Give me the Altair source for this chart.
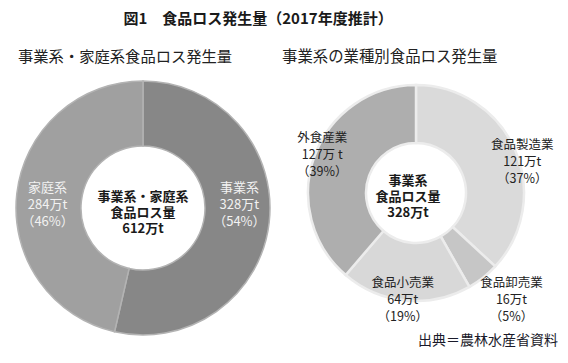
import altair as alt
import pandas as pd

# ---- data ----
left_cats = ["事業系", "家庭系"]
left_vals = [328, 284]
left_pcts = [54, 46]
left_units = ["万t", "万t"]

right_cats = ["食品製造業", "食品卸売業", "食品小売業", "外食産業"]
right_vals = [121, 16, 64, 127]
right_pcts = [37, 5, 19, 39]
right_units = ["万t", "万t", "万t", "万 t"]

title_text = "図1　食品ロス発生量（2017年度推計）"
sub_left = "事業系・家庭系食品ロス発生量"
sub_right = "事業系の業種別食品ロス発生量"
center_left = ["事業系・家庭系", "食品ロス量", "612万t"]
center_right = ["事業系", "食品ロス量", "328万t"]
source_text = "出典＝農林水産省資料"

# ---- styles ----
FONT = "Noto Sans CJK JP"
all_cats = left_cats + right_cats
all_colors = ["#878787", "#a0a0a0", "#dadada", "#c6c6c6", "#d8d8d8", "#aeaeae"]
color_scale = alt.Scale(domain=all_cats, range=all_colors)


def make_df(cats, vals, pcts, units):
    return pd.DataFrame({
        "idx": list(range(len(cats))),
        "cat": cats,
        "val": vals,
        "label": [f"{c}\n{v}{u}\n（{p}%）" for c, v, p, u in zip(cats, vals, pcts, units)],
    })


df_l = make_df(left_cats, left_vals, left_pcts, left_units)
df_r = make_df(right_cats, right_vals, right_pcts, right_units)


def donut(df, cx, cy, r_out, r_in, stroke, sw):
    return alt.Chart(df).mark_arc(radius=r_out, radius2=r_in, stroke=stroke, strokeWidth=sw).encode(
        theta=alt.Theta("val:Q", stack=True),
        order=alt.Order("idx:Q"),
        color=alt.Color("cat:N", scale=color_scale, legend=None),
        x=alt.value(cx),
        y=alt.value(cy),
    )


def slice_label(df, cat, cx, cy, radius, dx, dy, color, size=12.5):
    return alt.Chart(df).transform_calculate(
        shown=f"datum.cat == '{cat}' ? datum.label : ''"
    ).mark_text(
        radius=radius, dx=dx, dy=dy, font=FONT, fontSize=size, lineBreak="\n",
        lineHeight=17, color=color, align="center", baseline="middle",
    ).encode(
        theta=alt.Theta("val:Q", stack=True),
        order=alt.Order("idx:Q"),
        text="shown:N",
        x=alt.value(cx),
        y=alt.value(cy),
    )


def text_item(txt, x, y, size, weight="normal", align="center", color="#222222", lh=16):
    return alt.Chart(pd.DataFrame({"t": [txt]})).mark_text(
        font=FONT, fontSize=size, fontWeight=weight, align=align, baseline="middle",
        color=color, lineBreak="\n", lineHeight=lh,
    ).encode(text="t:N", x=alt.value(x), y=alt.value(y))


LCX, LCY = 135, 200
RCX, RCY = 408, 185

left = alt.layer(
    donut(df_l, LCX, LCY, 127, 62, "#b3b3b3", 1.5),
    slice_label(df_l, "事業系", LCX, LCY, 97, 0, -31, "#f2f2f2", 13),
    slice_label(df_l, "家庭系", LCX, LCY, 96, 0, -9, "#f2f2f2", 13),
)

right = alt.layer(
    donut(df_r, RCX, RCY, 108, 50, "#ececec", 2.5),
    slice_label(df_r, "食品製造業", RCX, RCY, 116, 0, -2, "#222222"),
    slice_label(df_r, "食品卸売業", RCX, RCY, 144, 6, -23, "#222222"),
    slice_label(df_r, "食品小売業", RCX, RCY, 107, -3, -17, "#222222"),
    slice_label(df_r, "外食産業", RCX, RCY, 100, 0, -20, "#222222"),
)

texts = [
    text_item(title_text, 250, 10.5, 15, "bold", color="#1a1a1a"),
    text_item(sub_left, 10, 49, 15.3, align="left"),
    text_item(sub_right, 274, 49, 15.4, align="left"),
    text_item("\n".join(center_left), LCX, 189, 13, "bold", color="#1a1a1a", lh=16),
    text_item("\n".join(center_right), RCX - 8, 173, 13, "bold", color="#1a1a1a", lh=16),
    text_item(source_text, 550, 333, 14, align="right", color="#1a1a2a"),
]

chart = alt.layer(left, right, *texts).resolve_scale(
    theta="independent"
).properties(
    width=552, height=347, padding=0,
    autosize=alt.AutoSizeParams(type="none"),
    background="white",
).configure_view(stroke=None)

chart.save("out.html", embed_options={"renderer": "svg", "actions": False})
